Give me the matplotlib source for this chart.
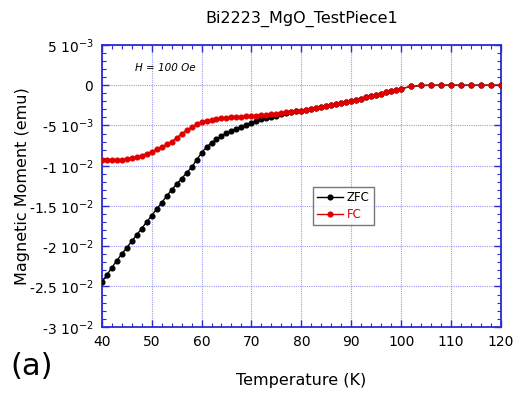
import matplotlib
matplotlib.use("Agg")
import matplotlib.pyplot as plt
from matplotlib.ticker import MultipleLocator, FixedLocator

# Temperature (K)
T = [40, 41, 42, 43, 44, 45, 46, 47, 48, 49,
     50, 51, 52, 53, 54, 55, 56, 57, 58, 59,
     60, 61, 62, 63, 64, 65, 66, 67, 68, 69,
     70, 71, 72, 73, 74, 75, 76, 77, 78, 79,
     80, 81, 82, 83, 84, 85, 86, 87, 88, 89,
     90, 91, 92, 93, 94, 95, 96, 97, 98, 99,
     100, 102, 104, 106, 108, 110, 112, 114, 116, 118, 120]

# FC magnetic moment (units of 1e-3 emu)
fc = [-9.3, -9.3, -9.3, -9.28, -9.25, -9.2, -9.1, -8.95, -8.75, -8.5,
      -8.25, -7.95, -7.67, -7.35, -7.0, -6.55, -6.05, -5.6, -5.24, -4.83,
      -4.59, -4.43, -4.27, -4.18, -4.10, -4.02, -3.98, -3.94, -3.90, -3.85,
      -3.82, -3.76, -3.70, -3.64, -3.58, -3.52, -3.45, -3.38, -3.31, -3.25,
      -3.18, -3.06, -2.94, -2.82, -2.70, -2.57, -2.45, -2.32, -2.20, -2.07,
      -1.95, -1.80, -1.65, -1.50, -1.35, -1.20, -1.05, -0.90, -0.75, -0.60,
      -0.42, -0.15, -0.03, 0.0, 0.0, 0.0, 0.0, 0.0, 0.0, 0.0, 0.0]

# ZFC magnetic moment (units of 1e-3 emu)
zfc = [-24.5, -23.6, -22.7, -21.8, -21.0, -20.2, -19.4, -18.6, -17.8, -17.0,
       -16.2, -15.4, -14.6, -13.8, -13.0, -12.3, -11.6, -10.9, -10.2, -9.3,
       -8.4, -7.7, -7.15, -6.74, -6.34, -5.97, -5.68, -5.4, -5.16, -4.91,
       -4.67, -4.46, -4.2, -4.06, -3.93, -3.77, -3.6, -3.47, -3.35, -3.26,
       -3.18, -3.06, -2.94, -2.82, -2.70, -2.57, -2.45, -2.32, -2.20, -2.07,
       -1.95, -1.80, -1.65, -1.50, -1.35, -1.20, -1.05, -0.90, -0.75, -0.60,
       -0.42, -0.15, -0.03, 0.0, 0.0, 0.0, 0.0, 0.0, 0.0, 0.0, 0.0]

ytick_vals = [5e-3, 0, -5e-3, -1e-2, -1.5e-2, -2e-2, -2.5e-2, -3e-2]
ytick_labels = [r"5 10$^{-3}$", "0", r"-5 10$^{-3}$", r"-1 10$^{-2}$",
                r"-1.5 10$^{-2}$", r"-2 10$^{-2}$", r"-2.5 10$^{-2}$", r"-3 10$^{-2}$"]
xtick_vals = [40, 50, 60, 70, 80, 90, 100, 110, 120]

blue = "#2b2bd6"
grid_blue = "#9a9af2"

fig = plt.figure(figsize=(5.22, 3.94), dpi=100)
ax = fig.add_axes([0.1948, 0.1708, 0.765, 0.715])

zfc_e = [v * 1e-3 for v in zfc]
fc_e = [v * 1e-3 for v in fc]
ax.plot(T, zfc_e, color="black", lw=1.0, marker="o", ms=3.4, label="ZFC", zorder=3)
ax.plot(T, fc_e, color="#e00000", lw=1.0, marker="o", ms=3.4, label="FC", zorder=4)

ax.set_xlim(40, 120)
ax.set_ylim(-3e-2, 5e-3)
ax.set_xticks(xtick_vals)
ax.set_xticklabels([str(v) for v in xtick_vals], fontsize=10)
ax.xaxis.set_minor_locator(MultipleLocator(2))
ax.set_yticks(ytick_vals)
ax.set_yticklabels(ytick_labels, fontsize=10)
ax.yaxis.set_minor_locator(MultipleLocator(1e-3))

ax.tick_params(which="both", direction="in", top=True, right=True, color=blue)
ax.tick_params(which="major", length=5, width=1.0, pad=6)
ax.tick_params(which="minor", length=3, width=0.8)
for s in ax.spines.values():
    s.set_color(blue)
    s.set_linewidth(1.3)

ax.grid(True, which="major", color=grid_blue, linestyle=(0, (1, 1)), lw=0.8)
ax.set_axisbelow(True)

ax.set_title("Bi2223_MgO_TestPiece1", fontsize=11.5, pad=16)
ax.set_xlabel("Temperature (K)", fontsize=11.5, labelpad=17)
ax.set_ylabel("Magnetic Moment (emu)", fontsize=11.5, labelpad=-1)

ax.text(0.159, 0.92, "H = 100 Oe", transform=ax.transAxes, fontsize=7.5,
        style="italic", ha="center", va="center")

leg = ax.legend(loc="upper left", bbox_to_anchor=(0.53, 0.495), fontsize=8.5,
                frameon=True, fancybox=False, edgecolor="#555555",
                handlelength=2.2, handletextpad=0.3, borderpad=0.35,
                labelspacing=0.3, borderaxespad=0)
leg.get_frame().set_linewidth(1.0)
for txt, c in zip(leg.get_texts(), ["black", "#e00000"]):
    txt.set_color(c)

fig.text(0.019, 0.069, "(a)", fontsize=22, ha="left", va="center")

fig.savefig("out.png", dpi=100)
